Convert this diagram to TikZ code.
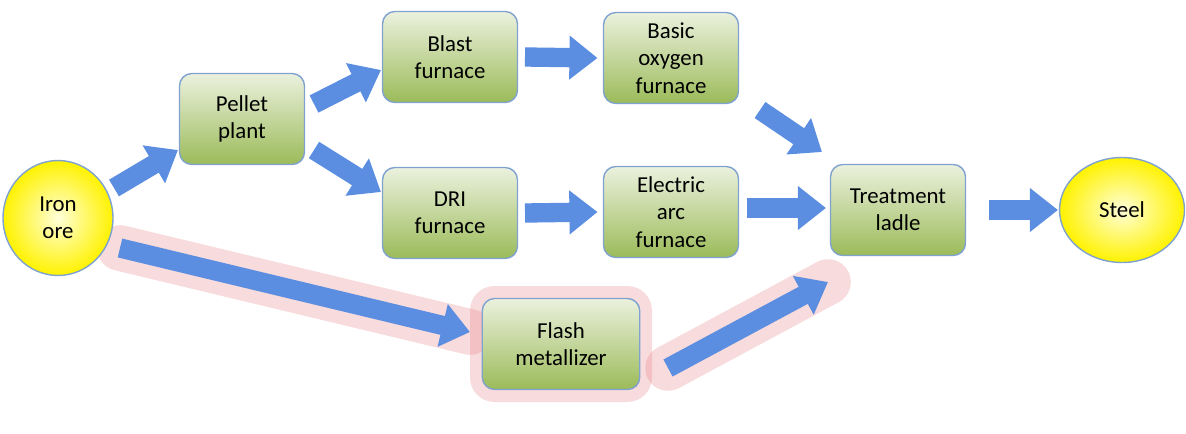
\documentclass[tikz,border=0pt]{standalone}
\usepackage{fontspec}
\setmainfont{Carlito}
\usetikzlibrary{shapes, arrows.meta}
\definecolor{boxtop}{HTML}{EBF1DE}
\definecolor{boxbot}{HTML}{9BBB59}
\definecolor{boxline}{HTML}{7FA2CF}
\definecolor{arrfill}{HTML}{5B8EE0}
\definecolor{glow}{HTML}{E8878A}
\tikzset{
  stage/.style={draw=boxline, thick, rounded corners=7pt, top color=boxtop, bottom color=boxbot,
    minimum width=2.7cm, minimum height=1.82cm, align=center, font=\fontsize{13}{15.5}\selectfont},
  endpt/.style={draw=boxline, thick, ellipse, inner color=yellow!15, outer color=yellow!90!orange,
    minimum width=2.2cm, minimum height=2.3cm, align=center, font=\fontsize{13}{15.5}\selectfont},
  flow/.style={line width=11pt, color=arrfill, -{Triangle[length=16pt, width=24pt]}},
  halo/.style={line width=26pt, color=glow, opacity=0.3, line cap=round}
}
\begin{document}
\begin{tikzpicture}[x=0.02cm, y=-0.02cm]
\useasboundingbox (0,0) rectangle (1186,433);
% Red glow under the new route
\coordinate (g1) at (120,248);
\coordinate (g2) at (470,332);
\coordinate (g3) at (668,368);
\coordinate (g4) at (828,282);
\draw[halo] (g1)--(g2);
\draw[halo] (g3)--(g4);
\fill[glow, opacity=0.3, rounded corners=14pt] (470,286) rectangle (652,402);
% Nodes
\node[endpt] (ore) at (58,218) {Iron\\ore};
\node[stage, minimum width=2.5cm] (pel) at (242,119) {Pellet\\plant};
\node[stage] (bf) at (450,57) {Blast\\furnace};
\node[stage] (bof) at (671,58) {Basic\\oxygen\\furnace};
\node[stage] (dri) at (450,213) {DRI\\furnace};
\node[stage] (eaf) at (671,212) {Electric\\arc\\furnace};
\node[stage] (lad) at (898,210) {Treatment\\ladle};
\node[endpt, minimum width=2.5cm, minimum height=2.1cm] (stl) at (1122,210) {Steel};
\node[stage, minimum width=3.15cm] (fm) at (561,344) {Flash\\metallizer};
% Arrows
\draw[flow] (114,188)--(178,150);
\draw[flow] (314,104)--(381,70);
\draw[flow] (314,150)--(381,192);
\draw[flow] (bf)+(75,0)--([xshift=-3pt]bof.west);
\draw[flow] (dri)+(75,0)--([xshift=-3pt]eaf.west);
\draw[flow] (760,110)--(822,152);
\draw[flow] (eaf)+(76,-4)--(826,208);
\draw[flow] (lad)+(91,0)--(1058,210);
\draw[flow] (g1)--(g2);
\draw[flow] (g3)--(g4);
\end{tikzpicture}
\end{document}
